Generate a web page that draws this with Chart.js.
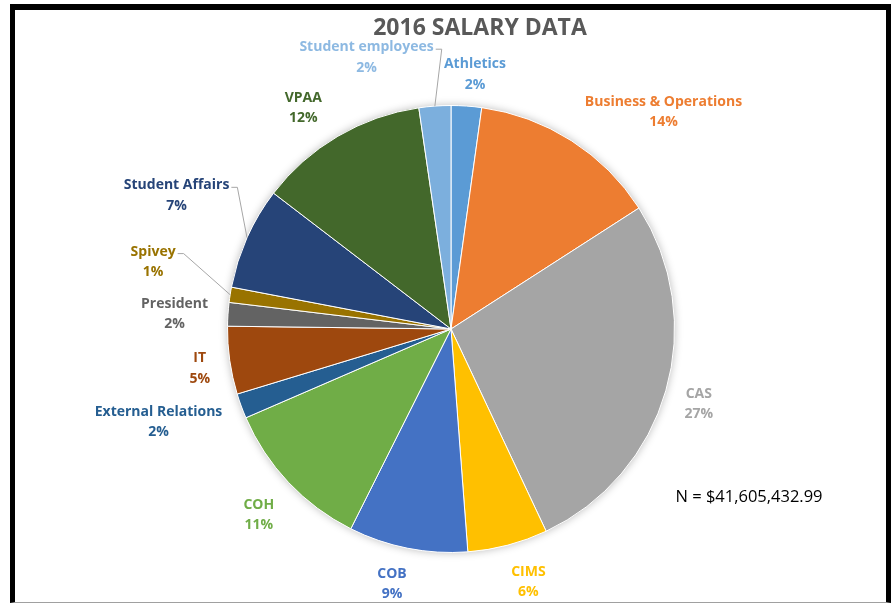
<!DOCTYPE html>
<html>
<head>
<meta charset="utf-8">
<title>2016 Salary Data</title>
<script src="https://cdn.jsdelivr.net/npm/chart.js@4.4.1/dist/chart.umd.min.js"></script>
<style>
    html, body { margin: 0; padding: 0; background: #fff; }
    #frame {
        position: absolute; left: 10px; top: 4px; width: 871px; height: 592px;
        border-top: 6px solid #000; border-left: 5px solid #000; border-right: 5px solid #000;
        border-bottom: 1px solid #a0a0a0;
    }
    #wrap { position: absolute; left: 0; top: 0; width: 893px; height: 604px; }
</style>
</head>
<body>
<div id="frame"></div>
<div id="wrap"><canvas id="salaryChart"></canvas></div>
<script>
// Share of total salary, percent (clockwise from 12 o'clock)
const departments = ['Athletics', 'Business & Operations', 'CAS', 'CIMS', 'COB', 'COH',
    'External Relations', 'IT', 'President', 'Spivey', 'Student Affairs', 'VPAA', 'Student employees'];
const shares = [2.2, 13.7, 27.1, 5.8, 8.6, 11.1, 1.8, 4.9, 1.7, 1.1, 7.4, 12.3, 2.3];
const chartTitle = '2016 SALARY DATA';
const totalNote = 'N = $41,605,432.99';

const sliceColors = ['#5b9bd5', '#ed7d31', '#a5a5a5', '#ffc000', '#4472c4', '#70ad47',
    '#255e91', '#9e480e', '#636363', '#997300', '#264478', '#43682b', '#7cafdd'];
const labelColors = ['#5b9bd5', '#ed7d31', '#a5a5a5', '#ffc000', '#4472c4', '#70ad47',
    '#255e91', '#9e480e', '#636363', '#997300', '#264478', '#43682b', '#8db9e2'];

// labels Excel moved away from their best-fit spot (with leader lines)
const labelNudge = [[5, 6], [39, 3], [0, 0], [11, -4], [-9, -6], [-4, 3], [-4, 0], [0, 0],
    [0, 0], [-35, -29], [-4, -28], [-15, 4], [-62, -11]];
const hasLeader = [false, false, false, false, false, false, false, false, false, true, true, false, true];

const labelFont = 'bold 14px "Open Sans"';

const pieDecor = {
    id: 'pieDecor',
    beforeDatasetsDraw(chart) {
        const arc = chart.getDatasetMeta(0).data[0];
        if (!arc) return;
        const ctx = chart.ctx;
        ctx.save();
        ctx.shadowColor = 'rgba(0,0,0,0.28)';
        ctx.shadowBlur = 9;
        ctx.fillStyle = '#fff';
        ctx.beginPath();
        ctx.arc(arc.x, arc.y, arc.outerRadius, 0, Math.PI * 2);
        ctx.fill();
        ctx.restore();
    },
    afterDraw(chart) {
        const ctx = chart.ctx;
        const area = chart.chartArea;
        const meta = chart.getDatasetMeta(0);
        const total = shares.reduce((a, b) => a + b, 0);
        const midX = (area.left + area.right) / 2;

        ctx.save();
        // title
        ctx.font = 'bold 23px "Open Sans"';
        ctx.fillStyle = '#595959';
        ctx.textAlign = 'center';
        ctx.textBaseline = 'middle';
        ctx.fillText(chartTitle, midX + 29, 28);

        // slice labels
        ctx.font = labelFont;
        meta.data.forEach(function (arc, i) {
            const p = arc.getProps(['x', 'y', 'startAngle', 'endAngle', 'outerRadius'], true);
            const mid = (p.startAngle + p.endAngle) / 2;
            const cos = Math.cos(mid), sin = Math.sin(mid);
            const pct = Math.round(shares[i] / total * 100) + '%';
            const w = Math.max(ctx.measureText(departments[i]).width, ctx.measureText(pct).width);
            const h = 40;
            const r = p.outerRadius + 20;
            const cx = p.x + r * cos + cos * w / 2 + labelNudge[i][0];
            const cy = p.y + r * sin + sin * h / 2 + labelNudge[i][1];

            if (hasLeader[i]) {
                const ex = p.x + p.outerRadius * cos, ey = p.y + p.outerRadius * sin;
                const boxRight = cx + w / 2;
                const ly = cy - 6;
                ctx.strokeStyle = '#a6a6a6';
                ctx.lineWidth = 1;
                ctx.beginPath();
                ctx.moveTo(ex, ey);
                ctx.lineTo(boxRight + 8, ly);
                ctx.lineTo(boxRight + 2, ly);
                ctx.stroke();
            }

            ctx.fillStyle = labelColors[i];
            ctx.fillText(departments[i], cx, cy - 8);
            ctx.fillText(pct, cx, cy + 12.5);
        });

        // total note
        ctx.font = '16.5px "Open Sans"';
        ctx.fillStyle = '#000';
        ctx.fillText(totalNote, midX + 298, area.top + 392);
        ctx.restore();
    }
};

const ctx = document.getElementById('salaryChart').getContext('2d');
new Chart(ctx, {
    type: 'pie',
    data: {
        labels: departments,
        datasets: [{
            data: shares,
            backgroundColor: sliceColors,
            borderColor: '#ffffff',
            borderWidth: 1
        }]
    },
    options: {
        responsive: true,
        maintainAspectRatio: false,
        animation: false,
        layout: {
            padding: { left: 227, right: 218, top: 105, bottom: 51 }
        },
        plugins: {
            legend: { display: false },
            tooltip: { enabled: false },
            title: { display: false }
        }
    },
    plugins: [pieDecor]
});
</script>
</body>
</html>
